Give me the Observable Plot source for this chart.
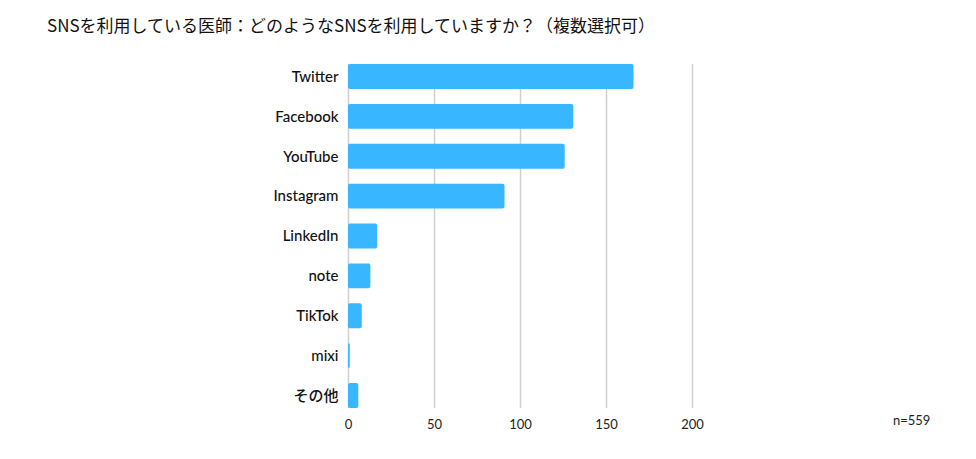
<!DOCTYPE html>
<html><head><meta charset="utf-8">
<script src="https://cdn.jsdelivr.net/npm/d3@7"></script>
<script src="https://cdn.jsdelivr.net/npm/@observablehq/plot@0.6"></script>
<style>
body{margin:0;background:#fff;width:976px;height:459px;position:relative;overflow:hidden}
#title{height:48px;line-height:50px;padding-left:47px;font-family:"Noto Sans CJK JP",sans-serif;font-size:17px;color:#111;white-space:nowrap}
#chart svg{display:block}
#note{position:absolute;left:893px;top:412px;font-family:Lato,sans-serif;font-size:13px;color:#222}
</style></head><body>
<div id="title">SNSを利用している医師：どのようなSNSを利用していますか？（複数選択可）</div>
<div id="chart"></div>
<div id="note">n=559</div>
<script>
const categories = ["Twitter","Facebook","YouTube","Instagram","LinkedIn","note","TikTok","mixi","その他"];
const values = [166, 131, 126, 91, 17, 13, 8, 1, 6];
const xTicks = [0, 50, 100, 150, 200];
const data = categories.map((c,i)=>({name:c, value:values[i]}));
const chart = Plot.plot({
  width: 976, height: 411,
  marginTop: 16, marginBottom: 51, marginLeft: 348, marginRight: 284,
  style: {fontFamily: "Lato, 'Noto Sans CJK JP', sans-serif", background: "#fff"},
  x: {domain: [0, 200], ticks: xTicks, label: null},
  y: {domain: categories, paddingInner: 0.375, paddingOuter: 0, round: false, label: null},
  marks: [
    Plot.ruleX(xTicks, {stroke: "#cfcfcf", strokeWidth: 1.5}),
    Plot.barX(data, {x: "value", y: "name", fill: "#38b6ff", rx: 2}),
    Plot.axisX({ticks: xTicks, tickSize: 0, tickPadding: 11, fontSize: 13, fill: "#222"}),
    Plot.axisY({tickSize: 0, tickPadding: 10, fontSize: 15, fontWeight: 500, fill: "#111"})
  ]
});
document.getElementById("chart").appendChild(chart);
</script>
</body></html>
